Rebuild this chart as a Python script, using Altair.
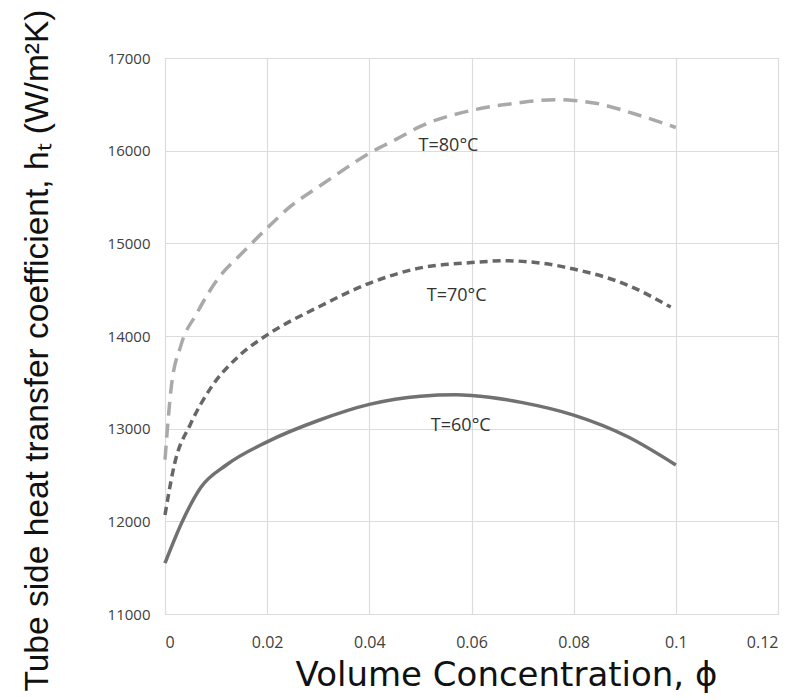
import altair as alt
import pandas as pd

# Data
x60 = [0, 0.0035, 0.007, 0.012, 0.02, 0.03, 0.04, 0.05, 0.057, 0.06, 0.07, 0.08, 0.0905, 0.1]
y60 = [11550, 12012, 12365, 12608, 12858, 13088, 13262, 13350, 13365, 13358, 13281, 13146, 12915, 12608]

x70 = [0, 0.0019, 0.005, 0.0089, 0.0144, 0.02, 0.03, 0.04, 0.05, 0.06, 0.0664, 0.0734, 0.08, 0.0905, 0.099]
y70 = [12069, 12627, 13050, 13435, 13781, 14012, 14312, 14569, 14735, 14792, 14812, 14788, 14723, 14550, 14312]

x80 = [0, 0.0012, 0.0031, 0.0062, 0.0105, 0.0151, 0.02, 0.0245, 0.03, 0.0346, 0.04, 0.0454, 0.05,
       0.06, 0.0687, 0.0765, 0.08, 0.0843, 0.092, 0.1]
y80 = [12665, 13435, 13896, 14242, 14627, 14896, 15165, 15396, 15608, 15781, 15973, 16127, 16262,
       16435, 16512, 16550, 16542, 16512, 16396, 16250]

label_text = ["T=80°C", "T=70°C", "T=60°C"]
label_x = [0.0555, 0.0571, 0.0579]
label_y = [16050, 14435, 13031]

x_ticks = [0, 0.02, 0.04, 0.06, 0.08, 0.1, 0.12]
y_ticks = [11000, 12000, 13000, 14000, 15000, 16000, 17000]

df60 = pd.DataFrame({"x": x60, "y": y60})
df70 = pd.DataFrame({"x": x70, "y": y70})
df80 = pd.DataFrame({"x": x80, "y": y80})
dflab = pd.DataFrame({"x": label_x, "y": label_y, "t": label_text})

xs = alt.Scale(domain=[0, 0.12], nice=False, zero=False)
ys = alt.Scale(domain=[11000, 17000], nice=False, zero=False)

xax = alt.Axis(values=x_ticks, labelExpr="datum.value == 0 ? '0' : format(datum.value, '~g')",
               title="Volume Concentration, ϕ", grid=True, gridColor="#dcdcdc", gridWidth=1.2,
               domain=False, ticks=False, labelFont="Open Sans", labelFontSize=16,
               labelColor="#404040", labelPadding=20, titleFont="DejaVu Sans",
               titleFontSize=34, titleFontWeight="normal", titleColor="#111",
               titleX=341, titleY=71, titleAlign="center", titleBaseline="alphabetic")
yax = alt.Axis(values=y_ticks, format="d",
               title="Tube side heat transfer coefficient, hₜ (W/m²K)", grid=True,
               gridColor="#dcdcdc", gridWidth=1.2, domain=False, ticks=False,
               labelFont="Open Sans", labelFontSize=15, labelColor="#404040", labelPadding=15,
               titleFont="Liberation Sans", titleFontSize=33.5,
               titleFontWeight="normal", titleColor="#111",
               titleX=-118, titleY=292, titleBaseline="alphabetic", titleAngle=270)

base_x = alt.X("x:Q", scale=xs, axis=xax)
base_y = alt.Y("y:Q", scale=ys, axis=yax)

l60 = alt.Chart(df60).mark_line(color="#717171", strokeWidth=3.5, interpolate="monotone").encode(x=base_x, y=base_y)
l70 = alt.Chart(df70).mark_line(color="#676767", strokeWidth=3.5, strokeDash=[8, 5], interpolate="monotone").encode(x=base_x, y=base_y)
l80 = alt.Chart(df80).mark_line(color="#a9a9a9", strokeWidth=3.5, strokeDash=[14, 8], interpolate="monotone").encode(x=base_x, y=base_y)
txt = alt.Chart(dflab).mark_text(font="Open Sans", fontSize=18, color="#333").encode(x=base_x, y=base_y, text="t:N")

chart = alt.layer(l80, l70, l60, txt).properties(
    width=613, height=556,
    padding={"left": 157, "top": 50, "right": 5, "bottom": 80},
    autosize="none",
).configure_view(stroke="#555", strokeWidth=1.5).configure(background="white")

chart.save("out.html", embed_options={"renderer": "svg", "actions": False})
